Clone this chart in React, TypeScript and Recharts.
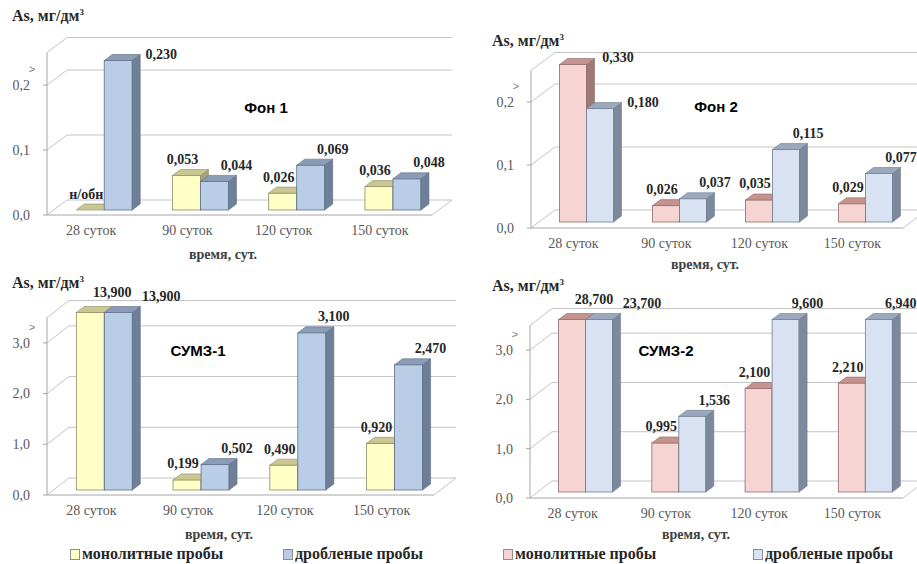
import React from 'react';
import { BarChart, Bar, XAxis, YAxis, CartesianGrid, LabelList } from 'recharts';

const categories = ['28 суток', '90 суток', '120 суток', '150 суток'];

// As, мг/дм3 — монолитные / дробленые пробы
const fon1Monolith = [0, 0.053, 0.026, 0.036];
const fon1Crushed = [0.23, 0.044, 0.069, 0.048];
const fon2Monolith = [0.33, 0.026, 0.035, 0.029];
const fon2Crushed = [0.18, 0.037, 0.115, 0.077];
const sumz1Monolith = [13.9, 0.199, 0.49, 0.92];
const sumz1Crushed = [13.9, 0.502, 3.1, 2.47];
const sumz2Monolith = [28.7, 0.995, 2.1, 2.21];
const sumz2Crushed = [23.7, 1.536, 9.6, 6.94];

const lowTicks = [0, 0.1, 0.2];
const highTicks = [0, 1, 2, 3];
const lowCap = 0.25;
const highCap = 3.5;

const seriesNames = ['монолитные пробы', 'дробленые пробы'];

const SERIF = '"Liberation Serif", "Times New Roman", serif';
const SANS = '"Liberation Sans", Arial, sans-serif';

const yellow = { front: '#FFFFC6', top: '#CBC793', side: '#A9A57A', stroke: '#8E8A62' };
const pink = { front: '#F6D4D1', top: '#C6928E', side: '#9E7875', stroke: '#8E6C69' };
const blueDark = { front: '#B9CDE7', top: '#8A9CB6', side: '#6E7F97', stroke: '#5F6F86' };
const blueLight = { front: '#D9E2F2', top: '#9BA9BE', side: '#7C899D', stroke: '#6F7C90' };

type Palette = typeof yellow;

const fmtValue = (v: number) => (v === 0 ? 'н/обн' : v.toFixed(3).replace('.', ','));
const fmtTick = (v: number) => v.toFixed(1).replace('.', ',');

const Bar3D = (props: any) => {
  const { x, y, width, height, colors, ox, oy } = props;
  const d = 8;
  const dv = 6;
  const bx = x + ox;
  const by = y + oy;
  const top = `${bx},${by} ${bx + d},${by - dv} ${bx + width + d},${by - dv} ${bx + width},${by}`;
  const side = `${bx + width},${by} ${bx + width + d},${by - dv} ${bx + width + d},${by + height - dv} ${bx + width},${by + height}`;
  return (
    <g>
      {height > 0 && <rect x={bx} y={by} width={width} height={height} fill={colors.front} stroke={colors.stroke} strokeWidth={0.8} />}
      {height > 0 && <polygon points={side} fill={colors.side} stroke={colors.stroke} strokeWidth={0.6} />}
      <polygon points={top} fill={colors.top} stroke={colors.stroke} strokeWidth={0.6} />
    </g>
  );
};

interface PanelProps {
  title: string;
  monolith: number[];
  crushed: number[];
  ticks: number[];
  cap: number;
  box: { left: number; top: number; width: number; height: number };
  plot: { left: number; right: number; top: number; bottom: number };
  depth: { dx: number; dy: number };
  barShift: { ox: number; oy: number };
  monoColors: Palette;
  crushedColors: Palette;
  yTitle: { x: number; y: number };
  panelTitle: { x: number; y: number };
  xTitle: { x: number; y: number };
  legend?: { first: number; second: number; y: number };
}

const Panel = (p: PanelProps) => {
  const rows = categories.map((cat, i) => ({
    cat,
    a: Math.min(p.monolith[i], p.cap),
    b: Math.min(p.crushed[i], p.cap),
    aRaw: p.monolith[i],
    bRaw: p.crushed[i],
  }));
  const margin = {
    top: p.plot.top - p.box.top,
    right: p.box.left + p.box.width - p.plot.right,
    left: 0,
    bottom: 0,
  };
  const yAxisWidth = p.plot.left - p.box.left;
  const xAxisHeight = p.box.top + p.box.height - p.plot.bottom;
  const floorY = p.plot.bottom - p.box.top;
  const { dx, dy } = p.depth;
  const { ox, oy } = p.barShift;

  const gridLine = (g: any) => {
    const { x1, y1, x2 } = g;
    const floor = Math.abs(y1 - floorY) < 1;
    return (
      <g key={`g-${y1}`}>
        <polyline points={`${x1},${y1} ${x1 + dx},${y1 + dy} ${x2 + dx},${y1 + dy}`} fill="none" stroke="#C4C4C4" strokeWidth={1} />
        {floor && <line x1={x2} y1={y1} x2={x2 + dx} y2={y1 + dy} stroke="#C4C4C4" strokeWidth={1} />}
      </g>
    );
  };

  const yTick = (t: any) => {
    const last = t.payload.value === p.ticks[p.ticks.length - 1];
    return (
      <g>
        <text x={t.x} y={t.y} dy="0.35em" textAnchor="end" fontFamily={SERIF} fontSize={14} fill="#595959">
          {fmtTick(t.payload.value)}
        </text>
        {last && (
          <text x={t.x + 2} y={t.y - 16} dy="0.35em" textAnchor="middle" fontFamily={SANS} fontSize={11} fill="#808080">
            {'>'}
          </text>
        )}
      </g>
    );
  };

  const xTick = (t: any) => (
    <text x={t.x - 4} y={t.y + 2} dy="0.71em" textAnchor="middle" fontFamily={SERIF} fontSize={14} fill="#595959">
      {t.payload.value}
    </text>
  );

  const labelA = (l: any) => {
    const row = rows[l.index];
    const capped = row.aRaw > p.cap;
    const tallNeighbourLower = l.index === 0 && row.bRaw < row.aRaw && capped && row.bRaw <= p.cap;
    const shiftX = tallNeighbourLower ? 45 : capped ? 22 : -4;
    const shiftY = tallNeighbourLower ? -7 : capped ? -20 : -16;
    return (
      <text x={l.x + l.width / 2 + ox + shiftX} y={l.y + oy + shiftY} dominantBaseline="central" textAnchor="middle"
        fontFamily={SERIF} fontWeight="bold" fontSize={14} fill="#262626">
        {fmtValue(row.aRaw)}
      </text>
    );
  };

  const labelB = (l: any) => {
    const row = rows[l.index];
    const capped = row.bRaw > p.cap;
    const shiftX = l.index === 0 ? 43 : 22;
    const shiftY = capped ? -16 : l.index === 0 ? -6 : -16;
    return (
      <text x={l.x + l.width / 2 + ox + shiftX} y={l.y + oy + shiftY} dominantBaseline="central" textAnchor="middle"
        fontFamily={SERIF} fontWeight="bold" fontSize={14} fill="#262626">
        {fmtValue(row.bRaw)}
      </text>
    );
  };

  const centered = (x: number, y: number): React.CSSProperties => ({
    position: 'absolute', left: x, top: y, transform: 'translate(-50%, -50%)', whiteSpace: 'nowrap',
  });

  const legendItem = (left: number, colors: Palette, text: string) => (
    <div style={{ position: 'absolute', left, top: p.legend!.y - 10, fontFamily: SERIF, fontWeight: 'bold', fontSize: 16, color: '#262626', whiteSpace: 'nowrap', display: 'flex', alignItems: 'center' }}>
      <span style={{ display: 'inline-block', width: 8, height: 9, border: '1px solid #8c8c8c', background: colors.front, marginRight: 2 }} />
      {text}
    </div>
  );

  return (
    <>
      <div style={{ position: 'absolute', left: p.box.left, top: p.box.top }}>
        <BarChart width={p.box.width} height={p.box.height} data={rows} margin={margin} barCategoryGap="21%" barGap={0}>
          <CartesianGrid vertical={false} horizontal={gridLine} />
          <XAxis dataKey="cat" height={xAxisHeight} interval={0} tickLine={false} axisLine={{ stroke: '#A6A6A6' }} tick={xTick} />
          <YAxis type="number" width={yAxisWidth} domain={[0, p.cap]} ticks={p.ticks} tickSize={4} tickMargin={13}
            tickLine={{ stroke: '#A6A6A6' }} axisLine={{ stroke: '#A6A6A6' }} tick={yTick} />
          <Bar dataKey="a" isAnimationActive={false}
            shape={(s: any) => <Bar3D {...s} colors={p.monoColors} ox={ox} oy={oy} />}>
            <LabelList dataKey="aRaw" content={labelA} />
          </Bar>
          <Bar dataKey="b" isAnimationActive={false}
            shape={(s: any) => <Bar3D {...s} colors={p.crushedColors} ox={ox} oy={oy} />}>
            <LabelList dataKey="bRaw" content={labelB} />
          </Bar>
        </BarChart>
      </div>
      <div style={{ position: 'absolute', left: p.yTitle.x, top: p.yTitle.y, fontFamily: SERIF, fontWeight: 'bold', fontSize: 16, color: '#262626', whiteSpace: 'nowrap' }}>
        As, мг/дм<sup style={{ fontSize: 9 }}>3</sup>
      </div>
      <div style={{ ...centered(p.panelTitle.x, p.panelTitle.y), fontFamily: SANS, fontWeight: 'bold', fontSize: 15, color: '#000' }}>
        {p.title}
      </div>
      <div style={{ ...centered(p.xTitle.x, p.xTitle.y), fontFamily: SERIF, fontWeight: 'bold', fontSize: 14, color: '#404040' }}>
        время, сут.
      </div>
      {p.legend && (
        <>
          {legendItem(p.legend.first, p.monoColors, seriesNames[0])}
          {legendItem(p.legend.second, p.crushedColors, seriesNames[1])}
        </>
      )}
    </>
  );
};

export default function App() {
  return (
    <div style={{ position: 'absolute', left: 0, top: 0, width: 917, height: 564, background: '#fff', overflow: 'hidden' }}>
      <Panel
        title="Фон 1" monolith={fon1Monolith} crushed={fon1Crushed} ticks={lowTicks} cap={lowCap}
        box={{ left: 0, top: 0, width: 460, height: 270 }}
        plot={{ left: 47, right: 432, top: 52.5, bottom: 215 }}
        depth={{ dx: 20, dy: -15 }} barShift={{ ox: 9, oy: -5 }}
        monoColors={yellow} crushedColors={blueDark}
        yTitle={{ x: 12, y: 7 }} panelTitle={{ x: 266, y: 107 }} xTitle={{ x: 223, y: 255 }}
      />
      <Panel
        title="Фон  2" monolith={fon2Monolith} crushed={fon2Crushed} ticks={lowTicks} cap={lowCap}
        box={{ left: 460, top: 0, width: 457, height: 270 }}
        plot={{ left: 531, right: 903, top: 70.5, bottom: 228 }}
        depth={{ dx: 24, dy: -18 }} barShift={{ ox: 9, oy: -6 }}
        monoColors={pink} crushedColors={blueLight}
        yTitle={{ x: 492, y: 32 }} panelTitle={{ x: 716, y: 106 }} xTitle={{ x: 705, y: 265 }}
      />
      <Panel
        title="СУМЗ-1" monolith={sumz1Monolith} crushed={sumz1Crushed} ticks={highTicks} cap={highCap}
        box={{ left: 0, top: 270, width: 460, height: 294 }}
        plot={{ left: 47, right: 434, top: 317.5, bottom: 495 }}
        depth={{ dx: 22, dy: -17 }} barShift={{ ox: 9, oy: -5 }}
        monoColors={yellow} crushedColors={blueDark}
        yTitle={{ x: 12, y: 274 }} panelTitle={{ x: 198, y: 350 }} xTitle={{ x: 219, y: 535 }}
        legend={{ first: 70, second: 283, y: 555 }}
      />
      <Panel
        title="СУМЗ-2" monolith={sumz2Monolith} crushed={sumz2Crushed} ticks={highTicks} cap={highCap}
        box={{ left: 460, top: 270, width: 457, height: 294 }}
        plot={{ left: 530, right: 903, top: 325.5, bottom: 498 }}
        depth={{ dx: 22, dy: -17 }} barShift={{ ox: 9, oy: -6 }}
        monoColors={pink} crushedColors={blueLight}
        yTitle={{ x: 492, y: 277 }} panelTitle={{ x: 666, y: 350 }} xTitle={{ x: 696, y: 535 }}
        legend={{ first: 503, second: 753, y: 555 }}
      />
    </div>
  );
}
